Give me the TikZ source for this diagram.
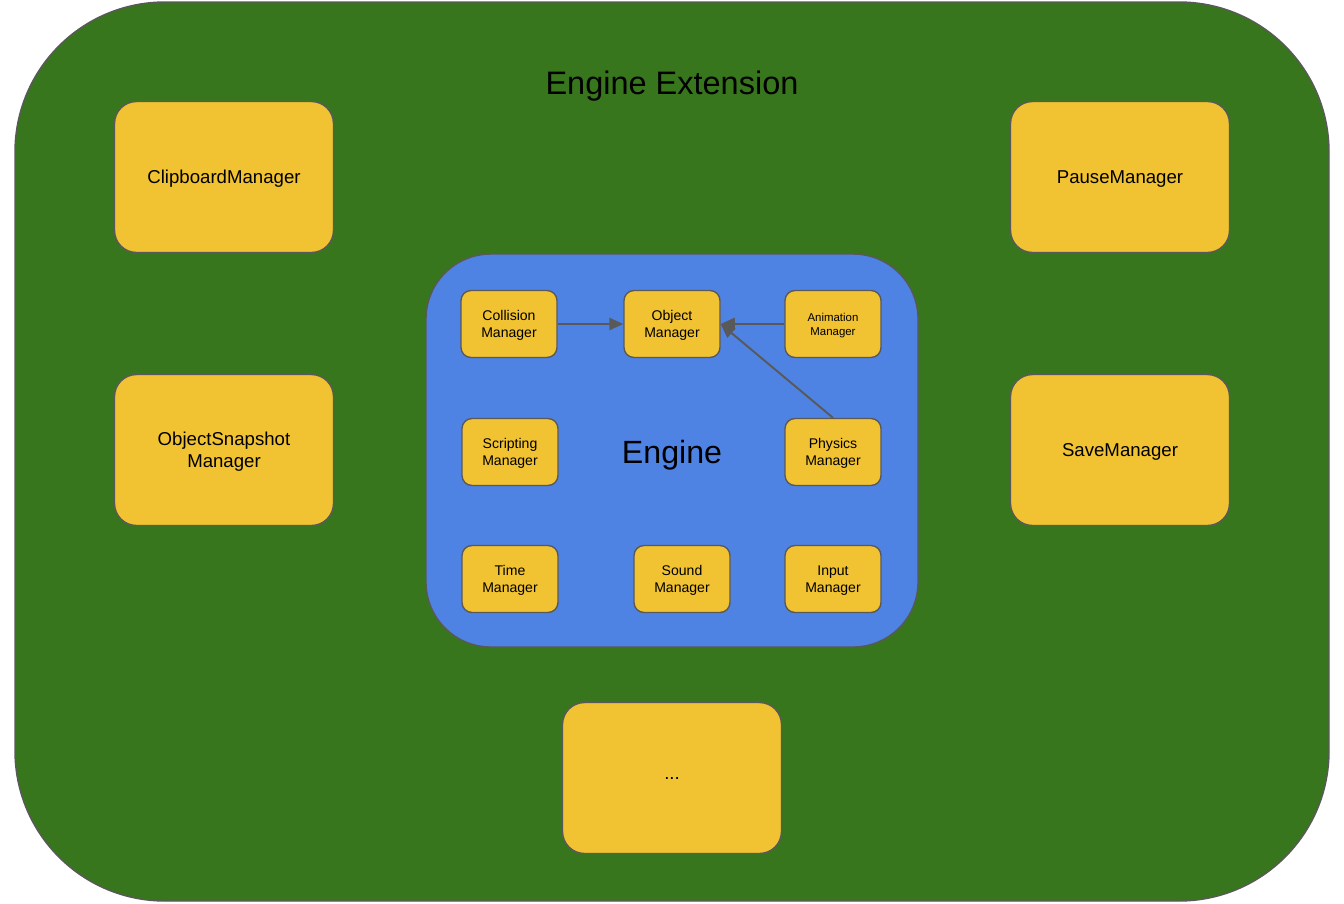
\documentclass[tikz,border=0pt]{standalone}
\usepackage{fontspec}
\setmainfont{Liberation Sans}
\usetikzlibrary{arrows.meta}
\definecolor{extgreen}{HTML}{38761D}
\definecolor{engblue}{HTML}{4F83E3}
\definecolor{mgryellow}{HTML}{F1C232}
\definecolor{edgegray}{HTML}{595959}
\begin{document}
\begin{tikzpicture}[x=0.02cm, y=-0.02cm,
    bigmgr/.style={draw=edgegray, line width=0.8pt, fill=mgryellow, rounded corners=0.44cm,
        minimum width=4.38cm, minimum height=3.02cm, align=center, text depth=0pt,
        font=\fontsize{10.6}{12.5}\selectfont},
    smallmgr/.style={draw=edgegray, line width=0.8pt, fill=mgryellow, rounded corners=0.2cm,
        minimum width=1.92cm, minimum height=1.34cm, align=center, text depth=0pt,
        font=\fontsize{8}{10}\selectfont},
    uses/.style={draw=edgegray, line width=1.1pt, -{Triangle[length=8pt, width=7pt]}}]
    \useasboundingbox (0,0) rectangle (1344,903);
    \draw[draw=edgegray, line width=0.8pt, fill=extgreen, rounded corners=3cm] (15,2) rectangle (1329,901);
    \node (exttitle) at (672,86) {\fontsize{18.5}{22}\selectfont Engine Extension};
    \node[bigmgr] (clipboard) at (224,177) {ClipboardManager};
    \node[bigmgr] (pause) at (1120,177) {PauseManager};
    \node[bigmgr] (snapshot) at (224,450) {ObjectSnapshot\\Manager};
    \node[bigmgr] (save) at (1120,450) {SaveManager};
    \node[bigmgr] (more) at (672,778) {...};
    \draw[draw=edgegray, line width=0.8pt, fill=engblue, rounded corners=1.3cm] (426,254) rectangle (918,647);
    \node (engine) at (672,455) {\fontsize{18.3}{22}\selectfont Engine};
    \node[smallmgr] (collision) at (509,324) {Collision\\Manager};
    \node[smallmgr] (object) at (672,324) {Object\\Manager};
    \node[smallmgr, font=\fontsize{6.5}{8}\selectfont] (animation) at (833,324) {Animation\\Manager};
    \node[smallmgr] (scripting) at (510,452) {Scripting\\Manager};
    \node[smallmgr] (physics) at (833,452) {Physics\\Manager};
    \node[smallmgr] (time) at (510,579) {Time\\Manager};
    \node[smallmgr] (sound) at (682,579) {Sound\\Manager};
    \node[smallmgr] (input) at (833,579) {Input\\Manager};
    \draw[uses] (collision) -- (object);
    \draw[uses] (animation) -- (object);
    \draw[uses] (physics.north) -- (object.east);
\end{tikzpicture}
\end{document}
